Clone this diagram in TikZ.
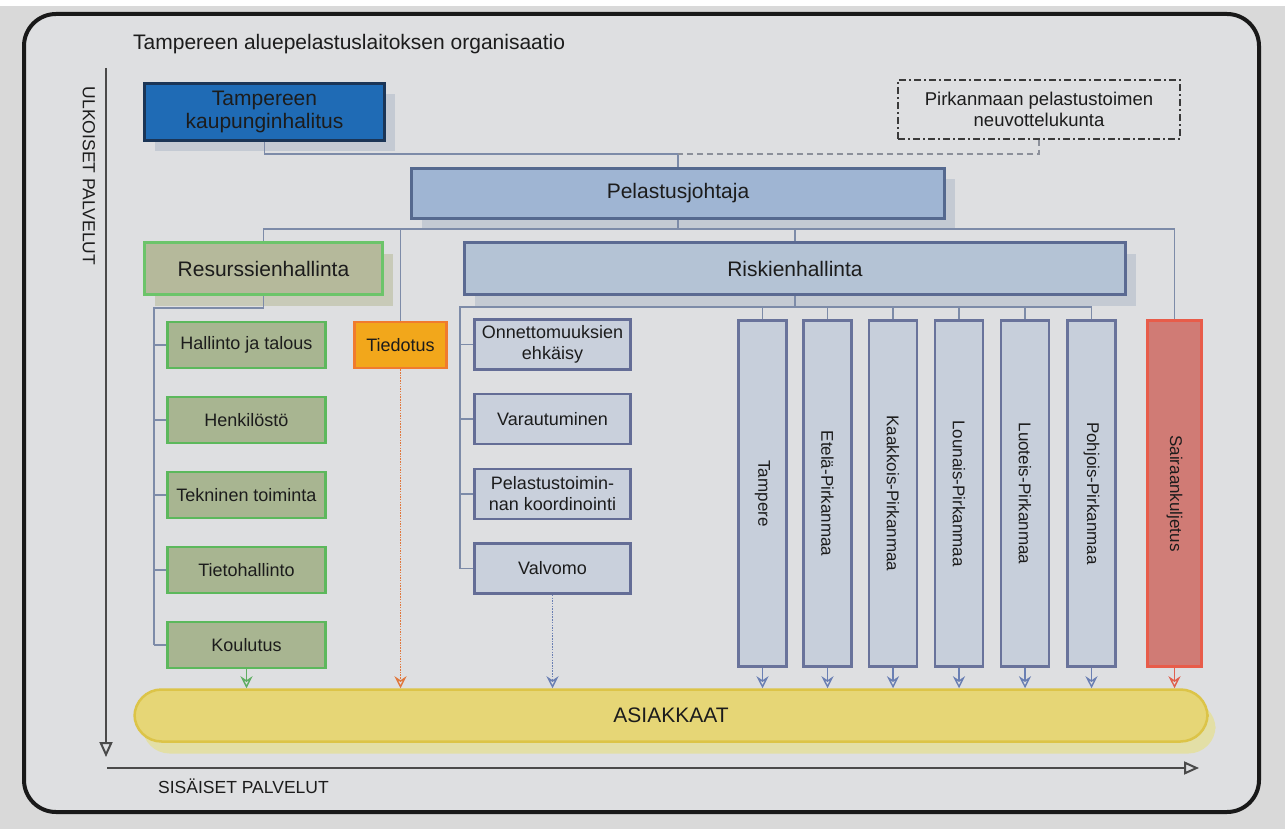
\documentclass[tikz,border=0pt]{standalone}
\usepackage{fontspec}
\setmainfont{Liberation Sans}
\usetikzlibrary{shadows,arrows.meta}
\definecolor{bgc}{HTML}{D9D9D9}
\definecolor{inner}{HTML}{DEDFE1}
\definecolor{txt}{HTML}{1C1C1C}
\definecolor{tkhf}{HTML}{1F6BB5}
\definecolor{tkhd}{HTML}{1B3556}
\definecolor{pjf}{HTML}{9FB5D3}
\definecolor{pjd}{HTML}{55698F}
\definecolor{rkf}{HTML}{B4C3D5}
\definecolor{rkd}{HTML}{5B6A92}
\definecolor{rhf}{HTML}{B5B99B}
\definecolor{rhd}{HTML}{6CC46A}
\definecolor{gf}{HTML}{A8B591}
\definecolor{gd}{HTML}{5CB85C}
\definecolor{tf}{HTML}{F2A71B}
\definecolor{td}{HTML}{F07B2E}
\definecolor{bf}{HTML}{C9D0DC}
\definecolor{bd}{HTML}{646D96}
\definecolor{cf}{HTML}{C7CFDB}
\definecolor{cd}{HTML}{69739B}
\definecolor{skf}{HTML}{D07B75}
\definecolor{skd}{HTML}{E85C4A}
\definecolor{af}{HTML}{E6D676}
\definecolor{ad}{HTML}{DCC448}
\definecolor{ash}{HTML}{E3DFA6}
\definecolor{lnc}{HTML}{7D8BA8}
\definecolor{dln}{HTML}{8C909A}
\definecolor{shb}{HTML}{C4CAD3}
\definecolor{shg}{HTML}{C8CAB8}
\definecolor{nvkd}{HTML}{3A3A3A}
\definecolor{axc}{HTML}{4A4A4A}
\definecolor{arg}{HTML}{5FAE62}
\definecolor{aro}{HTML}{E0783E}
\definecolor{arb}{HTML}{6A7FB3}
\definecolor{arr}{HTML}{E0604F}
\begin{document}
\begin{tikzpicture}[x=1pt,y=-1pt,
  conn/.style={draw=lnc, line width=1.3pt},
  box/.style={draw, align=center, inner sep=1pt, text=txt, line width=3pt, font=\fontsize{21}{23}\selectfont},
  sbox/.style={box, line width=2.6pt, font=\fontsize{18}{21}\selectfont},
  colbox/.style={sbox, minimum width=48pt, minimum height=346pt, font=\fontsize{17}{20}\selectfont},
  sh/.style={drop shadow={shadow xshift=10pt, shadow yshift=-11pt, fill=#1, opacity=1}},
  downarr/.style={line width=1.4pt, draw=#1, -{Stealth[open, length=12pt, width=12pt, inset=4pt]}},
  axis/.style={draw=axc, line width=2pt, -{Triangle[open, length=15pt, width=13pt, line width=2pt]}},
  axlab/.style={text=txt, font=\fontsize{17.5}{20}\selectfont}
]
\useasboundingbox (0,0) rectangle (1285,829);
\fill[bgc] (0,0) rectangle (1285,829);
\fill[white] (0,0) rectangle (1285,6);
\draw[line width=4pt, draw=black!90, fill=inner, rounded corners=32pt] (24,14) rectangle (1259,812);

% title
\node[anchor=west, text=txt, font=\fontsize{21}{24}\selectfont, inner sep=0pt] (title) at (133,44) {Tampereen aluepelastuslaitoksen organisaatio};

% axes
\coordinate (ya) at (106,68);
\coordinate (yb) at (106,757);
\coordinate (xa) at (107,768);
\coordinate (xb) at (1199,768);
\draw[axis] (ya) -- (yb);
\draw[axis, line width=2.6pt] (xa) -- (xb);
\node[axlab] (ulk) at (89,176) {\rotatebox{-90}{ULKOISET PALVELUT}};
\node[axlab, anchor=west, inner sep=0pt] (sis) at (158,786) {SISÄISET PALVELUT};

% top level
\node[box, sh=shb, fill=tkhf, draw=tkhd, minimum width=240pt, minimum height=57pt] (tkh) at (264.5,112) {Tampereen\\kaupunginhalitus};
\node[box, draw=nvkd, dash pattern=on 7pt off 3pt on 2pt off 3pt, line width=2pt, minimum width=282pt, minimum height=59pt, font=\fontsize{18.5}{20.5}\selectfont] (nvk) at (1039,109.5) {Pirkanmaan pelastustoimen\\neuvottelukunta};
\node[box, sh=shb, fill=pjf, draw=pjd, minimum width=533pt, minimum height=50pt] (pj) at (678,193.5) {Pelastusjohtaja};
\node[box, sh=shg, fill=rhf, draw=rhd, minimum width=238pt, minimum height=52pt] (rh) at (263.5,268.5) {Resurssienhallinta};
\node[box, sh=shb, fill=rkf, draw=rkd, minimum width=661pt, minimum height=52pt] (rk) at (795,268.5) {Riskienhallinta};

% resource units
\tikzset{gbox/.style={sbox, fill=gf, draw=gd, minimum width=158pt, minimum height=46pt}}
\node[gbox] (g1) at (246.5,345) {Hallinto ja talous};
\node[gbox] (g2) at (246.5,420) {Henkilöstö};
\node[gbox] (g3) at (246.5,495) {Tekninen toiminta};
\node[gbox] (g4) at (246.5,570) {Tietohallinto};
\node[gbox] (g5) at (246.5,645) {Koulutus};

\node[sbox, fill=tf, draw=td, minimum width=92pt, minimum height=46pt] (tied) at (400.5,345) {Tiedotus};

% risk units
\tikzset{bbox/.style={sbox, fill=bf, draw=bd, minimum width=156pt, minimum height=50pt}}
\node[bbox] (b1) at (552.5,344.5) {Onnettomuuksien\\ehkäisy};
\node[bbox] (b2) at (552.5,419) {Varautuminen};
\node[bbox] (b3) at (552.5,494) {Pelastustoimin-\\nan koordinointi};
\node[bbox] (b4) at (552.5,568.5) {Valvomo};

% regions
\tikzset{rbox/.style={colbox, fill=cf, draw=cd}}
\node[rbox] (c1) at (762.5,493.5) {\rotatebox{-90}{Tampere}};
\node[rbox] (c2) at (827.5,493.5) {\rotatebox{-90}{Etelä-Pirkanmaa}};
\node[rbox] (c3) at (893,493.5) {\rotatebox{-90}{Kaakkois-Pirkanmaa}};
\node[rbox] (c4) at (959,493.5) {\rotatebox{-90}{Lounais-Pirkanmaa}};
\node[rbox] (c5) at (1025,493.5) {\rotatebox{-90}{Luoteis-Pirkanmaa}};
\node[rbox] (c6) at (1091.5,493.5) {\rotatebox{-90}{Pohjois-Pirkanmaa}};
\node[colbox, fill=skf, draw=skd, minimum width=54pt] (sk) at (1174.5,493.5) {\rotatebox{-90}{Sairaankuljetus}};

% customers
\node[box, rounded corners=27pt, fill=af, draw=ad, line width=2.5pt, minimum width=1073pt, minimum height=52pt,
  drop shadow={shadow xshift=8pt, shadow yshift=-12pt, fill=ash, opacity=1}] (as) at (671,715.5) {ASIAKKAAT};

% connectors
\coordinate (j1) at (678,154);
\coordinate (j2) at (678,229);
\coordinate (j3) at (154,308);
\coordinate (j4) at (795,307);
\coordinate (j5) at (460,307);
\draw[conn] (tkh.south) |- (j1) -- (pj.north);
\draw[conn, draw=dln, dash pattern=on 6pt off 4pt] (nvk.south) |- (j1);
\draw[conn] (pj.south) -- (j2);
\draw[conn] (rh.north) |- (sk.north |- j2) -- (sk.north);
\draw[conn] (tied.north |- j2) -- (tied.north);
\draw[conn] (rk.north |- j2) -- (rk.north);
\draw[conn] (rh.south) |- (j3) -- (j3 |- g5.west);
\foreach \n in {g1,g2,g3,g4,g5} \draw[conn] (j3 |- \n.west) -- (\n.west);
\draw[conn] (rk.south) -- (j4);
\draw[conn] (c6.north |- j4) -- (j5) -- (j5 |- b4.west);
\foreach \n in {b1,b2,b3,b4} \draw[conn] (j5 |- \n.west) -- (\n.west);
\foreach \n in {c1,c2,c3,c4,c5,c6} \draw[conn] (\n.north |- j4) -- (\n.north);

% arrows to customers
\draw[downarr=arg] (g5.south) -- (g5.south |- as.north);
\draw[downarr=aro, dash pattern=on 1.5pt off 1.2pt] (tied.south) -- (tied.south |- as.north);
\draw[downarr=arb, dash pattern=on 1.5pt off 1.2pt] (b4.south) -- (b4.south |- as.north);
\foreach \n in {c1,c2,c3,c4,c5,c6} \draw[downarr=arb] (\n.south) -- (\n.south |- as.north);
\draw[downarr=arr] (sk.south) -- (sk.south |- as.north);
\end{tikzpicture}
\end{document}
